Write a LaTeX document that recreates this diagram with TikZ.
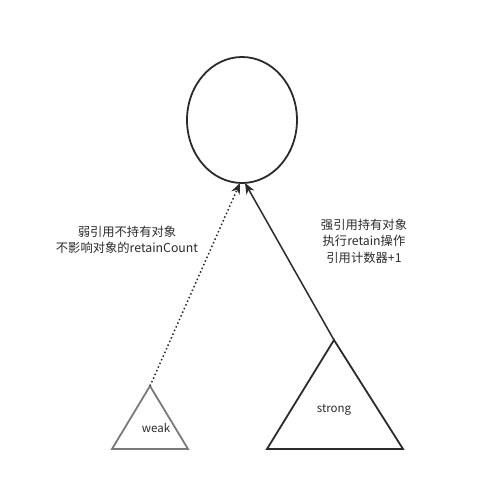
\documentclass[tikz,border=0pt]{standalone}
\usepackage{fontspec}
\newfontfamily\cjk{Noto Sans CJK SC}
\usetikzlibrary{shapes.geometric,arrows.meta}
\definecolor{ink}{HTML}{2B2B2B}
\definecolor{weakgray}{HTML}{7A7A7A}
\begin{document}
\begin{tikzpicture}[x=1pt,y=-1pt,
  label/.style={font=\cjk\fontsize{12.3}{16.5}\selectfont, text=ink, align=center, inner sep=0},
  small/.style={font=\cjk\fontsize{11.5}{13}\selectfont, text=ink, inner sep=0},
  tri/.style={line width=1.8pt, line join=miter},
  conn/.style={line width=1.5pt, draw=ink, -{Stealth[length=11pt,width=9pt]}}]
\useasboundingbox (0,0) rectangle (478,483);
\fill[white] (0,0) rectangle (478,483);
\node[draw=ink, line width=1.8pt, ellipse, minimum width=110pt, minimum height=126pt, inner sep=0] (obj) at (242,120) {};
% weak triangle
\coordinate (wa) at (150,386);
\coordinate (wl) at (112,449);
\coordinate (wr) at (188,449);
\draw[tri, draw=weakgray] (wa) -- (wl) -- (wr) -- cycle;
\node[small] (weak) at (156,428) {weak};
% strong triangle
\coordinate (sa) at (334,340);
\coordinate (sl) at (267,449);
\coordinate (sr) at (403,449);
\draw[tri, draw=ink] (sa) -- (sl) -- (sr) -- cycle;
\node[small] (strong) at (334,410) {strong};
% connectors
\coordinate (wt) at (240,183);
\coordinate (st) at (245,183);
\draw[conn, dash pattern=on 1.5pt off 2.5pt] (wa) -- (wt);
\draw[conn] (sa) -- (st);
% labels
\node[label] (wl1) at (127,240) {弱引用不持有对象\\不影响对象的retainCount};
\node[label] (sl1) at (364,241) {强引用持有对象\\执行retain操作\\引用计数器+1};
\end{tikzpicture}
\end{document}
